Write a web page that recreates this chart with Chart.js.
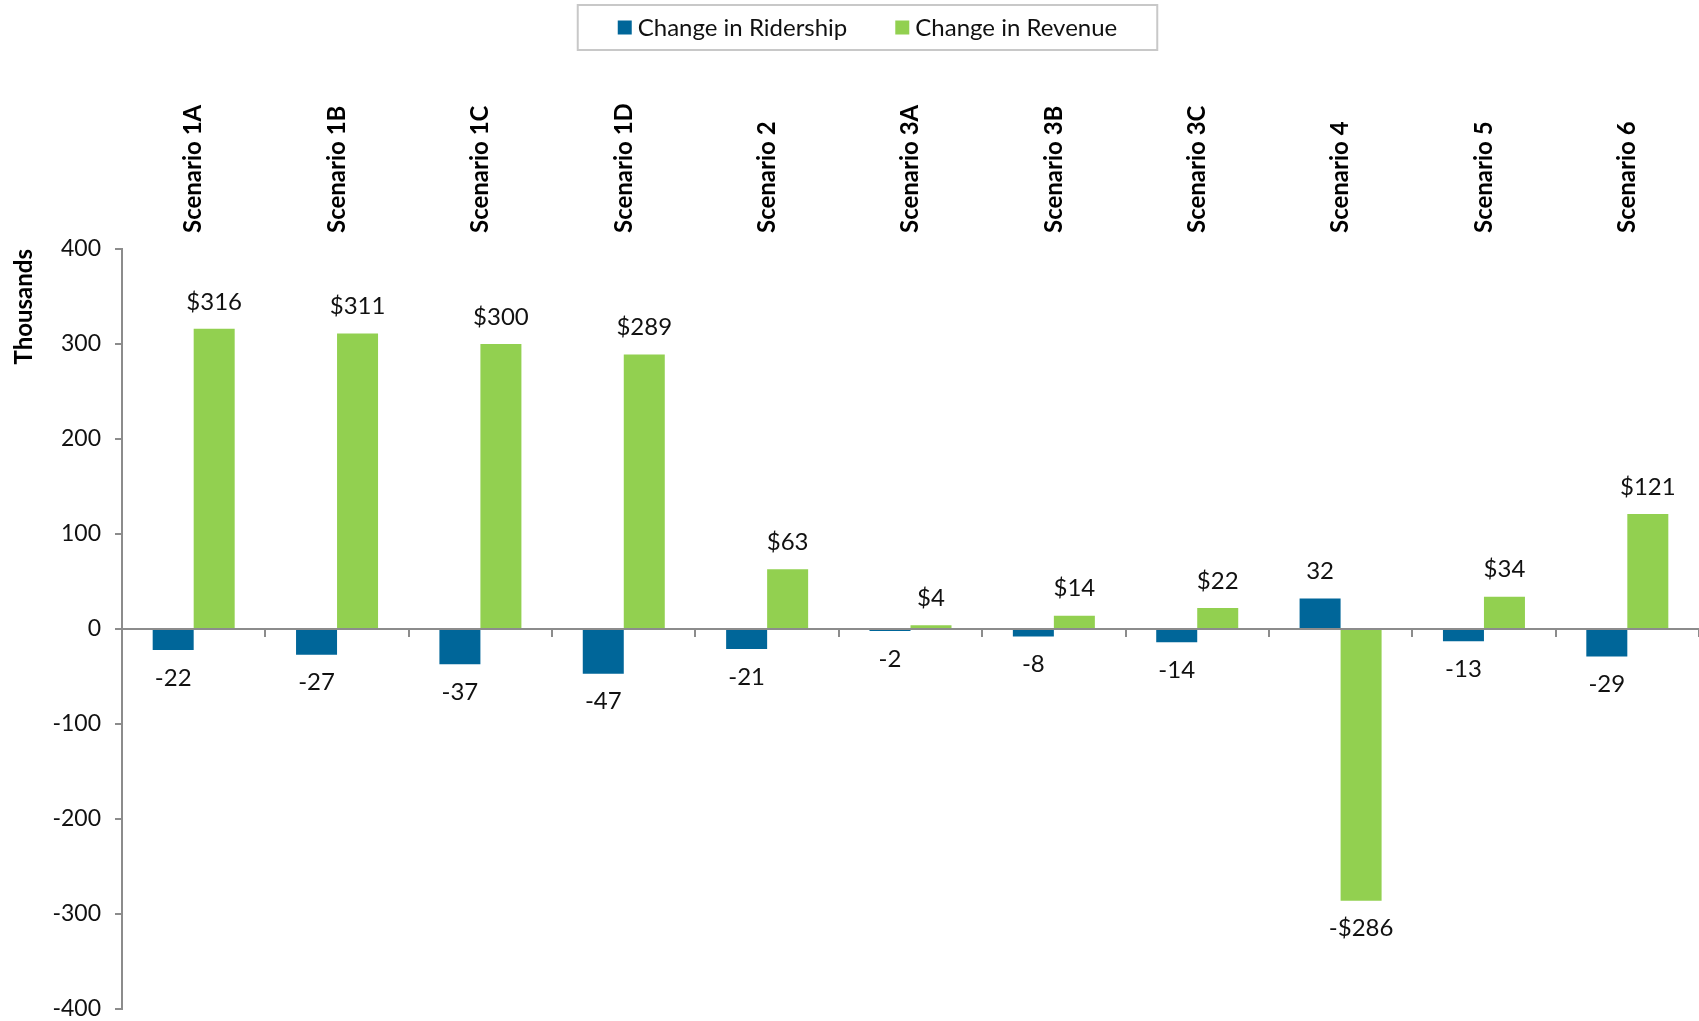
<!DOCTYPE html>
<html lang="en">
<head>
<meta charset="UTF-8">
<title>Change in Ridership and Revenue by Scenario</title>
<script src="https://cdn.jsdelivr.net/npm/chart.js"></script>
<style>
    body { margin: 0; background: #fff; }
    #wrap { width: 1699px; height: 1021px; }
</style>
</head>
<body>
<div id="wrap"><canvas id="scenarioChart"></canvas></div>
<script>
    const scenarios = ['Scenario 1A', 'Scenario 1B', 'Scenario 1C', 'Scenario 1D', 'Scenario 2',
        'Scenario 3A', 'Scenario 3B', 'Scenario 3C', 'Scenario 4', 'Scenario 5', 'Scenario 6'];
    const ridership = [-22, -27, -37, -47, -21, -2, -8, -14, 32, -13, -29];
    const revenue = [316, 311, 300, 289, 63, 4, 14, 22, -286, 34, 121];
    const yMin = -400, yMax = 400, yStep = 100;

    const FONT = 'Lato, "Open Sans", sans-serif';
    const AXIS_GREY = '#8c8c8c';
    const CAT_SIZE = 24, CAT_LH = 1.2;

    // value labels above / below each bar
    const barLabels = {
        id: 'barLabels',
        afterDatasetsDraw(chart) {
            const ctx = chart.ctx;
            ctx.save();
            ctx.font = '24px ' + FONT;
            ctx.fillStyle = '#111';
            ctx.textAlign = 'center';
            ctx.textBaseline = 'middle';
            chart.data.datasets.forEach((ds, i) => {
                chart.getDatasetMeta(i).data.forEach((bar, j) => {
                    const v = ds.data[j];
                    const txt = (v < 0 ? '-' : '') + (ds.prefix || '') + Math.abs(v);
                    ctx.fillText(txt, bar.x, v >= 0 ? bar.y - 27 : bar.y + 28);
                });
            });
            ctx.restore();
        }
    };

    // boxed legend at the top
    const boxedLegend = {
        id: 'boxedLegend',
        afterDraw(chart) {
            const ctx = chart.ctx;
            const sq = 14, gapText = 6, gapItem = 48, padX = 40;
            ctx.save();
            ctx.font = '24px ' + FONT;
            const items = chart.data.datasets.map(ds => ({
                text: ds.label, color: ds.backgroundColor, w: ctx.measureText(ds.label).width
            }));
            let total = items.reduce((s, it) => s + sq + gapText + it.w, 0) + gapItem * (items.length - 1);
            const cx = chart.width / 2 + 18;
            const top = 5, h = 45;
            let x = cx - total / 2;
            ctx.strokeStyle = '#c8c8c8';
            ctx.lineWidth = 2;
            ctx.strokeRect(x - padX, top, total + padX * 2, h);
            const cy = top + h / 2;
            ctx.textBaseline = 'middle';
            ctx.textAlign = 'left';
            items.forEach(it => {
                ctx.fillStyle = it.color;
                ctx.fillRect(x, cy - sq / 2, sq, sq);
                x += sq + gapText;
                ctx.fillStyle = '#111';
                ctx.fillText(it.text, x, cy + 1);
                x += it.w + gapItem;
            });
            ctx.restore();
        }
    };

    const ctx = document.getElementById('scenarioChart').getContext('2d');
    new Chart(ctx, {
        type: 'bar',
        data: {
            labels: scenarios,
            datasets: [{
                label: 'Change in Ridership',
                data: ridership,
                backgroundColor: '#006699',
                prefix: ''
            }, {
                label: 'Change in Revenue',
                data: revenue,
                backgroundColor: '#92D050',
                prefix: '$'
            }]
        },
        options: {
            responsive: true,
            maintainAspectRatio: false,
            animation: false,
            datasets: {
                bar: { categoryPercentage: 0.572, barPercentage: 1.0 }
            },
            layout: { padding: { top: 62, right: 0, bottom: 0, left: 0 } },
            plugins: {
                legend: { display: false },
                tooltip: { enabled: false }
            },
            scales: {
                x: {
                    position: { y: 0 },
                    ticks: { display: false },
                    grid: { drawOnChartArea: false, drawTicks: true, tickLength: 7, color: AXIS_GREY, lineWidth: 2 },
                    border: { color: AXIS_GREY, width: 2 },
                    afterFit(scale) { scale.height = 0; }
                },
                x2: {
                    type: 'category',
                    labels: scenarios,
                    position: 'top',
                    offset: true,
                    grid: { display: false, drawTicks: false },
                    border: { display: false },
                    ticks: {
                        minRotation: 90, maxRotation: 90, padding: 16, autoSkip: false,
                        labelOffset: CAT_SIZE * CAT_LH,
                        color: '#000',
                        font: { family: FONT, size: CAT_SIZE, weight: 'bold', lineHeight: CAT_LH }
                    },
                    afterFit(scale) { scale.height = 187; }
                },
                y: {
                    min: yMin,
                    max: yMax,
                    ticks: {
                        stepSize: yStep, padding: 14, color: '#111',
                        font: { family: FONT, size: 23 }
                    },
                    grid: { drawOnChartArea: false, drawTicks: true, tickLength: 7, color: AXIS_GREY, lineWidth: 2 },
                    border: { color: AXIS_GREY, width: 2 },
                    title: {
                        display: true, text: 'Thousands', align: 'end', color: '#000',
                        font: { family: FONT, size: 24, weight: 'bold', lineHeight: 1.2 },
                        padding: { top: 10, bottom: 0 }
                    },
                    afterFit(scale) {
                        scale.width = 122;
                        scale.paddingTop = 0;
                        scale.paddingBottom = 12;
                    }
                }
            }
        },
        plugins: [barLabels, boxedLegend]
    });
</script>
</body>
</html>
